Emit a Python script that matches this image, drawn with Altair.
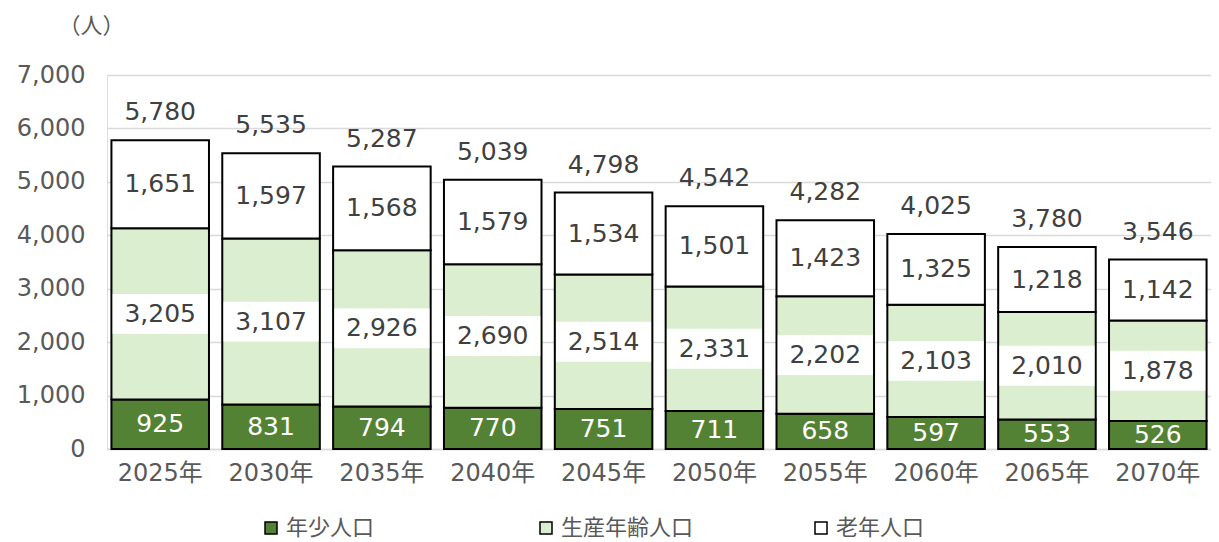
import altair as alt
import pandas as pd

years = ["2025年", "2030年", "2035年", "2040年", "2045年", "2050年", "2055年", "2060年", "2065年", "2070年"]
young = [925, 831, 794, 770, 751, 711, 658, 597, 553, 526]
working = [3205, 3107, 2926, 2690, 2514, 2331, 2202, 2103, 2010, 1878]
elderly = [1651, 1597, 1568, 1579, 1534, 1501, 1423, 1325, 1218, 1142]
totals = [5780, 5535, 5287, 5039, 4798, 4542, 4282, 4025, 3780, 3546]
yticks = [0, 1000, 2000, 3000, 4000, 5000, 6000, 7000]
groups = ["年少人口", "生産年齢人口", "老年人口"]
colors = ["#548235", "#dbeecf", "#ffffff"]

rows = []
for i, yr in enumerate(years):
    b0 = 0
    for g, vals in zip(groups, [young, working, elderly]):
        v = vals[i]
        rows.append(dict(year=yr, group=g, y0=b0, y1=b0 + v, mid=b0 + v / 2, value=v))
        b0 += v
df = pd.DataFrame(rows)
tot = pd.DataFrame(dict(year=years, total=totals))

FONT = "DejaVu Sans, Noto Sans CJK JP"
LFONT = "Noto Sans CJK JP"
xenc = alt.X("year:N", sort=years, title=None,
             scale=alt.Scale(paddingInner=0.12, paddingOuter=0.04),
             axis=alt.Axis(labelAngle=0, labelFontSize=24, labelColor="#595959",
                           labelPadding=12, ticks=False, domainColor="#d9d9d9",
                           domainWidth=1.5, labelFont=FONT))
yscale = alt.Scale(domain=[0, 7000], nice=False)

bars = alt.Chart(df).mark_bar(stroke="black", strokeWidth=2).encode(
    x=xenc,
    y=alt.Y("y0:Q", scale=yscale,
            axis=alt.Axis(values=yticks, format=",.0f",
                          grid=True, gridColor="#d9d9d9", gridWidth=1.5, domain=False,
                          ticks=False, labelFontSize=24, labelColor="#595959",
                          labelPadding=22, labelFont=FONT,
                          title="（人）", titleAngle=0, titleX=-16, titleY=-50,
                          titleAlign="center", titleBaseline="middle",
                          titleFontSize=22, titleFontWeight="normal",
                          titleColor="#595959", titleFont=LFONT)),
    y2="y1:Q",
    fill=alt.Fill("group:N", sort=groups,
                  scale=alt.Scale(domain=groups, range=colors),
                  legend=alt.Legend(title=None, orient="none", legendX=153, legendY=442,
                                    direction="horizontal", columns=3, gridAlign="all",
                                    columnPadding=116, symbolType="square", symbolSize=144,
                                    symbolStrokeColor="black", symbolStrokeWidth=1.5,
                                    labelFontSize=22, labelColor="#595959", labelFont=LFONT,
                                    labelOffset=4)),
)

mid_df = df[df.group == "生産年齢人口"]
boxes = alt.Chart(mid_df).mark_point(
    shape="M-1,-0.42L1,-0.42L1,0.42L-1,0.42Z", size=9025, filled=True,
    fill="white", opacity=1, strokeWidth=0
).encode(x=alt.X("year:N", sort=years), y=alt.Y("mid:Q", scale=yscale))

def labels(data, field, color, dy=0):
    return alt.Chart(data).mark_text(
        fontSize=25, color=color, font=FONT, baseline="middle", dy=dy
    ).encode(x=alt.X("year:N", sort=years), y=alt.Y(f"{field}:Q", scale=yscale),
             text=alt.Text(f"{'value' if field == 'mid' else field}:Q", format=",.0f"))

txt_young = labels(df[df.group == "年少人口"], "mid", "white")
txt_mid = labels(mid_df, "mid", "#404040")
txt_old = labels(df[df.group == "老年人口"], "mid", "#404040")
txt_tot = labels(tot, "total", "#404040", dy=-28)

chart = alt.layer(bars, boxes, txt_young, txt_mid, txt_old, txt_tot).properties(
    width=1104, height=374,
    autosize=alt.AutoSizeParams(type="none"),
    padding={"left": 99, "top": 67, "right": 0, "bottom": 93},
).configure_view(stroke=None).configure(background="white")

chart.save("out.html", embed_options={"renderer": "svg", "actions": False})
